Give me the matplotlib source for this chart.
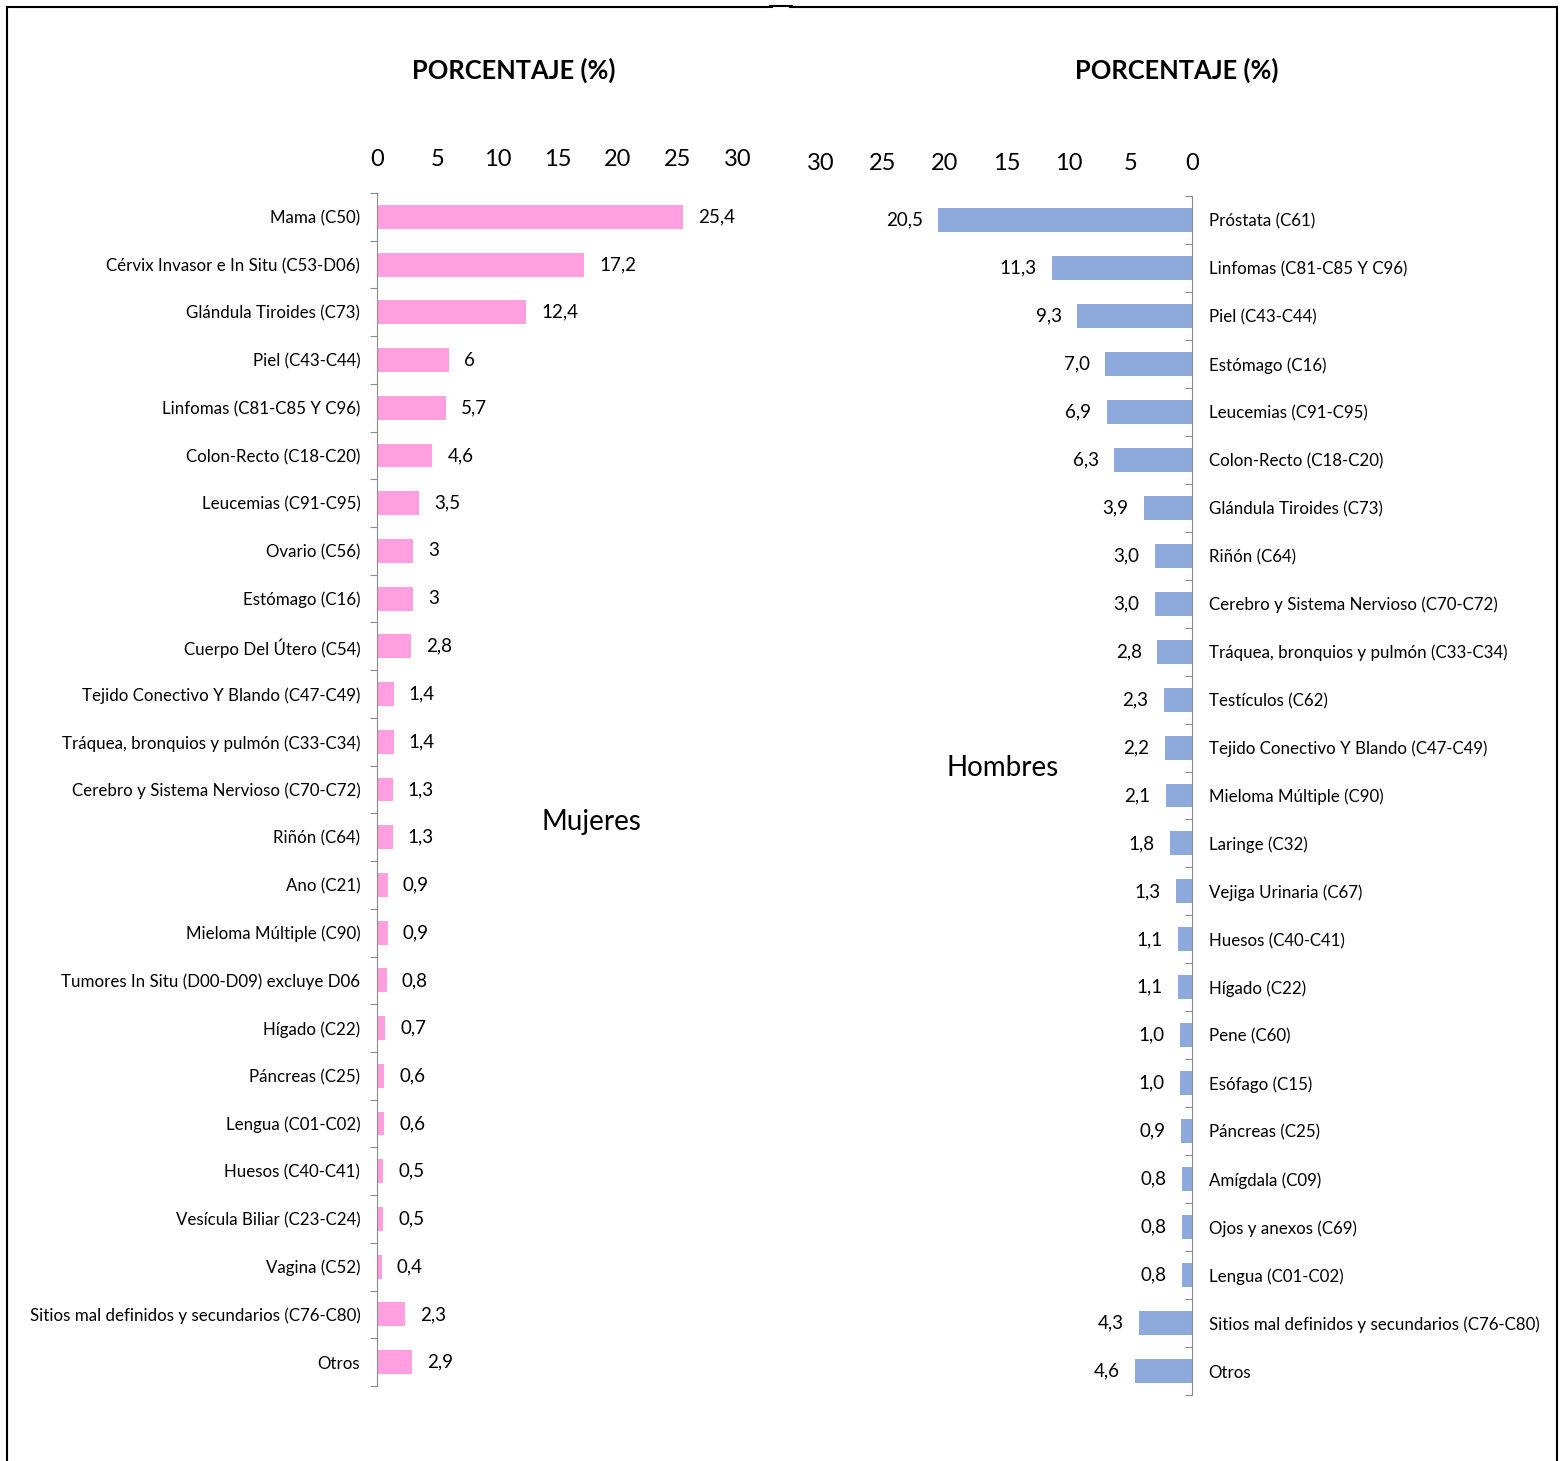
import matplotlib
matplotlib.use("Agg")
import matplotlib.pyplot as plt
from matplotlib.lines import Line2D
import numpy as np

plt.rcParams['font.family'] = ['Lato', 'DejaVu Sans']

# ---- Data ----
women_categories = [
    "Mama (C50)", "Cérvix Invasor e In Situ (C53-D06)", "Glándula Tiroides (C73)",
    "Piel (C43-C44)", "Linfomas (C81-C85 Y C96)", "Colon-Recto (C18-C20)",
    "Leucemias (C91-C95)", "Ovario (C56)", "Estómago (C16)", "Cuerpo Del Útero (C54)",
    "Tejido Conectivo Y Blando (C47-C49)", "Tráquea, bronquios y pulmón (C33-C34)",
    "Cerebro y Sistema Nervioso (C70-C72)", "Riñón (C64)", "Ano (C21)",
    "Mieloma Múltiple (C90)", "Tumores In Situ (D00-D09) excluye D06", "Hígado (C22)",
    "Páncreas (C25)", "Lengua (C01-C02)", "Huesos (C40-C41)", "Vesícula Biliar (C23-C24)",
    "Vagina (C52)", "Sitios mal definidos y secundarios (C76-C80)", "Otros",
]
women_values = [25.4, 17.2, 12.4, 6, 5.7, 4.6, 3.5, 3, 3, 2.8, 1.4, 1.4, 1.3, 1.3,
                0.9, 0.9, 0.8, 0.7, 0.6, 0.6, 0.5, 0.5, 0.4, 2.3, 2.9]
women_labels = ["25,4", "17,2", "12,4", "6", "5,7", "4,6", "3,5", "3", "3", "2,8",
                "1,4", "1,4", "1,3", "1,3", "0,9", "0,9", "0,8", "0,7", "0,6", "0,6",
                "0,5", "0,5", "0,4", "2,3", "2,9"]

men_categories = [
    "Próstata (C61)", "Linfomas (C81-C85 Y C96)", "Piel (C43-C44)", "Estómago (C16)",
    "Leucemias (C91-C95)", "Colon-Recto (C18-C20)", "Glándula Tiroides (C73)",
    "Riñón (C64)", "Cerebro y Sistema Nervioso (C70-C72)",
    "Tráquea, bronquios y pulmón (C33-C34)", "Testículos (C62)",
    "Tejido Conectivo Y Blando (C47-C49)", "Mieloma Múltiple (C90)", "Laringe (C32)",
    "Vejiga Urinaria (C67)", "Huesos (C40-C41)", "Hígado (C22)", "Pene (C60)",
    "Esófago (C15)", "Páncreas (C25)", "Amígdala (C09)", "Ojos y anexos (C69)",
    "Lengua (C01-C02)", "Sitios mal definidos y secundarios (C76-C80)", "Otros",
]
men_values = [20.5, 11.3, 9.3, 7.0, 6.9, 6.3, 3.9, 3.0, 3.0, 2.8, 2.3, 2.2, 2.1, 1.8,
              1.3, 1.1, 1.1, 1.0, 1.0, 0.9, 0.8, 0.8, 0.8, 4.3, 4.6]
men_labels = [f"{v:.1f}".replace(".", ",") for v in men_values]

x_ticks = [0, 5, 10, 15, 20, 25, 30]

PINK = "#FF9FDF"
BLUE = "#8EA9DB"
AXC = "#8C8C8C"

W, H = 1562, 1461
fig = plt.figure(figsize=(W / 100, H / 100), dpi=100)


def fx(px):
    return px / W


def fy(py):
    return 1 - py / H


# frame
kw = dict(color="black", lw=1.5, transform=fig.transFigure)
fig.add_artist(Line2D([fx(7), fx(7)], [fy(7), 0], **kw))
fig.add_artist(Line2D([fx(7), fx(772)], [fy(7), fy(7)], **kw))
fig.add_artist(Line2D([fx(770), fx(792)], [fy(6), fy(6)], **kw))
fig.add_artist(Line2D([fx(790), fx(1557)], [fy(7), fy(7)], **kw))
fig.add_artist(Line2D([fx(1557), fx(1557)], [fy(7), 0], **kw))

LABEL_FS = 12.2
VAL_FS = 13.5
TICK_FS = 17

# ---- Left panel (women) ----
axL = fig.add_axes([fx(377), fy(1386), fx(738) - fx(377), fy(193) - fy(1386)])
n = len(women_categories)
pos = np.arange(n)
axL.barh(pos, women_values, height=0.5, color=PINK)
axL.set_xlim(0, 30)
axL.set_ylim(n - 0.5, -0.5)
axL.set_yticks(np.arange(n + 1) - 0.5, minor=False)
axL.set_yticklabels([])
axL.set_yticks(pos, minor=True)
axL.set_yticklabels(women_categories, minor=True, fontsize=LABEL_FS)
axL.tick_params(axis="y", which="minor", length=0, pad=12)
axL.tick_params(axis="y", which="major", length=5, color=AXC, direction="out")
axL.xaxis.tick_top()
axL.set_xticks(x_ticks)
axL.tick_params(axis="x", length=0, labelsize=TICK_FS, pad=16.3)
for s in ["top", "right", "bottom"]:
    axL.spines[s].set_visible(False)
axL.spines["left"].set_color(AXC)
for i, (v, lab) in enumerate(zip(women_values, women_labels)):
    axL.text(v + 1.25, i, lab, va="center", ha="left", fontsize=VAL_FS)
fig.text(fx(514), fy(70), "PORCENTAJE (%)", ha="center", va="center", fontsize=18.4, fontweight="bold")
fig.text(fx(591), fy(822), "Mujeres", ha="center", va="center", fontsize=20)

# ---- Right panel (men) ----
axR = fig.add_axes([fx(821), fy(1395), fx(1192) - fx(821), fy(196) - fy(1395)])
m = len(men_categories)
posm = np.arange(m)
axR.barh(posm, men_values, height=0.5, color=BLUE)
axR.set_xlim(30, 0)
axR.set_ylim(m - 0.5, -0.5)
axR.yaxis.tick_right()
axR.set_yticks(np.arange(m + 1) - 0.5, minor=False)
axR.set_yticklabels([])
axR.set_yticks(posm, minor=True)
axR.set_yticklabels(men_categories, minor=True, fontsize=LABEL_FS)
axR.tick_params(axis="y", which="minor", length=0, pad=12, labelright=True, labelleft=False)
axR.tick_params(axis="y", which="major", length=5, color=AXC, direction="in")
axR.xaxis.tick_top()
axR.set_xticks(x_ticks)
axR.tick_params(axis="x", length=0, labelsize=TICK_FS, pad=15.6)
for s in ["top", "left", "bottom"]:
    axR.spines[s].set_visible(False)
axR.spines["right"].set_color(AXC)
for i, (v, lab) in enumerate(zip(men_values, men_labels)):
    axR.text(v + 1.25, i, lab, va="center", ha="right", fontsize=VAL_FS)
fig.text(fx(1177), fy(70), "PORCENTAJE (%)", ha="center", va="center", fontsize=18.4, fontweight="bold")
fig.text(fx(1003), fy(768), "Hombres", ha="center", va="center", fontsize=20)

fig.savefig("out.png", dpi=100)
